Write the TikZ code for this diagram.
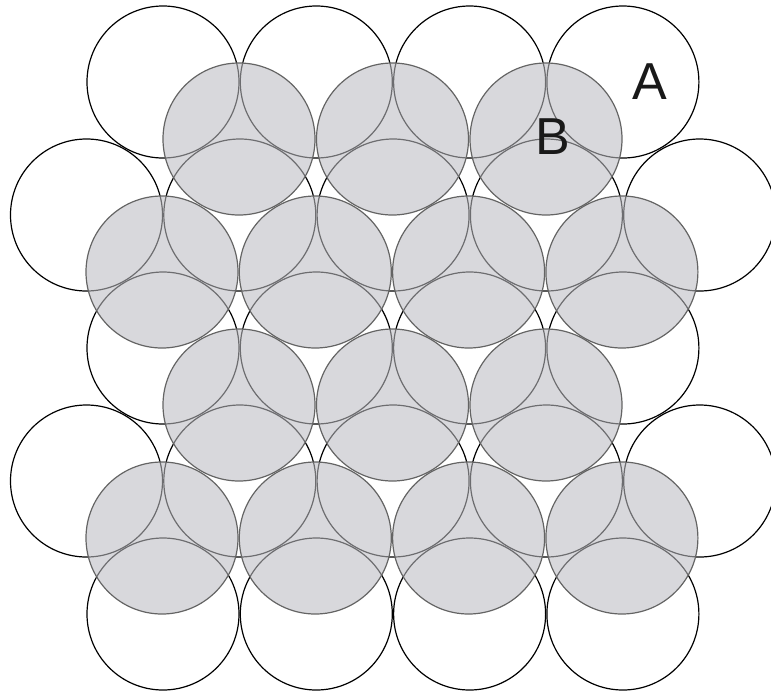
\documentclass[tikz,border=0pt]{standalone}
\usepackage{fontspec}
\setmainfont{Liberation Sans}
\definecolor{bfill}{RGB}{188,188,194}
\definecolor{bline}{RGB}{100,100,100}
\tikzset{
  acirc/.style={circle,draw=black,line width=1.2pt,minimum size=152pt,inner sep=0pt},
  bcirc/.style={circle,draw=bline,line width=1.2pt,fill=bfill,fill opacity=0.58,minimum size=152pt,inner sep=0pt},
  lbl/.style={font=\fontsize{52}{52}\selectfont,inner sep=0pt,text=black!90}
}
\begin{document}
\begin{tikzpicture}[x=1pt,y=-1pt]
\useasboundingbox (0,0) rectangle (771,694);
% layer A
\foreach \r/\y in {1/82,3/348,5/614}{
  \foreach \c in {0,1,2,3}{
    \node[acirc] (a-\r-\c) at ({163+153.3*\c},\y) {};
  }
}
\foreach \r/\y in {2/215,4/481}{
  \foreach \c in {0,1,2,3,4}{
    \node[acirc] (a-\r-\c) at ({86.5+153.3*\c},\y) {};
  }
}
% layer B
\foreach \r/\y in {1/139,3/405}{
  \foreach \c in {0,1,2}{
    \node[bcirc] (b-\r-\c) at ({239+153.5*\c},\y) {};
  }
}
\foreach \r/\y in {2/272,4/538}{
  \foreach \c in {0,1,2,3}{
    \node[bcirc] (b-\r-\c) at ({162+153.3*\c},\y) {};
  }
}
% labels
\node[lbl] (labA) at (650,82) {A};
\node[lbl] (labB) at (553,137) {B};
\end{tikzpicture}
\end{document}
